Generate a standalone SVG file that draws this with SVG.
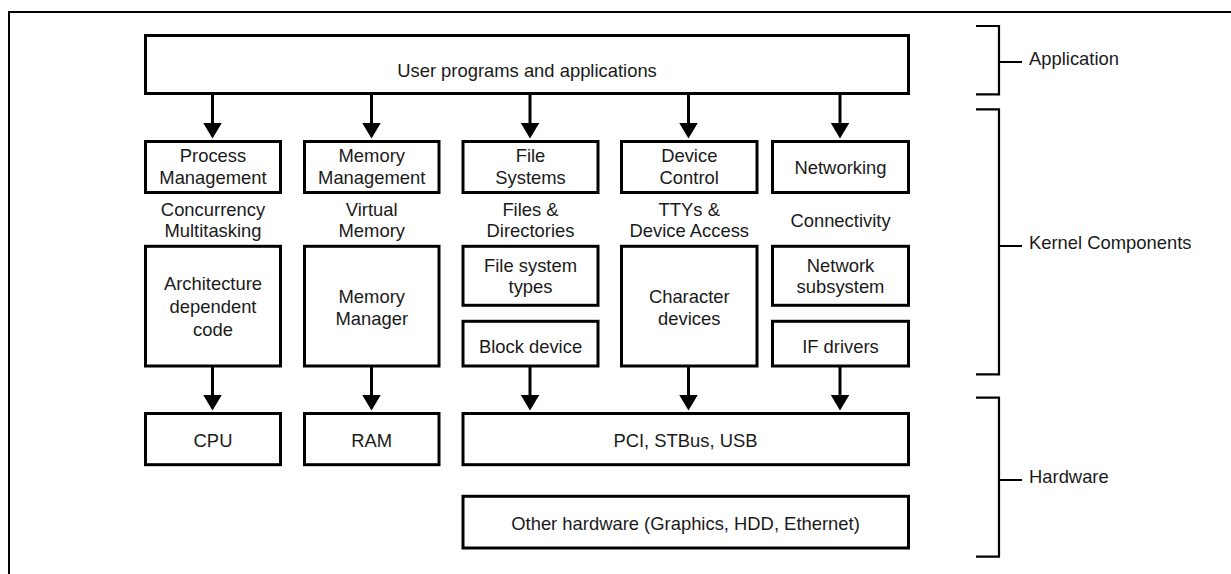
<svg xmlns="http://www.w3.org/2000/svg" width="1231" height="574" viewBox="0 0 1231 574">
<style>
  .box { fill: #fff; stroke: #000; stroke-width: 3; }
  .t { font-family: "Liberation Sans", Arial, sans-serif; font-size: 18.4px; fill: #1a1a1a; text-anchor: middle; }
  .tl { font-family: "Liberation Sans", Arial, sans-serif; font-size: 18.4px; fill: #1a1a1a; text-anchor: start; }
  .conn { stroke: #000; stroke-width: 3; fill: none; marker-end: url(#ah); }
  .br { stroke: #000; stroke-width: 2.2; fill: none; }
  .frame { stroke: #000; stroke-width: 2; fill: none; }
</style>
<defs>
  <marker id="ah" markerUnits="userSpaceOnUse" markerWidth="16" markerHeight="19" refX="0" refY="9.25" orient="auto" viewBox="0 0 16 19">
    <path d="M0,0 L15.5,9.25 L0,18.5 z" fill="#000"/>
  </marker>
</defs>
<rect width="1231" height="574" fill="#fff"/>
<path class="frame" d="M9,574 V12 H1231"/>

<g id="n-user"><rect class="box" x="145.5" y="35.5" width="763" height="58"/><text class="t" x="527" y="77">User programs and applications</text></g>

<g id="n-proc"><rect class="box" x="145.5" y="141.5" width="135" height="51"/><text class="t" x="213" y="162.3">Process</text><text class="t" x="213" y="184.3">Management</text></g>
<g id="n-mem"><rect class="box" x="304.5" y="141.5" width="134.5" height="51"/><text class="t" x="371.75" y="162.3">Memory</text><text class="t" x="371.75" y="184.3">Management</text></g>
<g id="n-fs"><rect class="box" x="463" y="141.5" width="135" height="51"/><text class="t" x="530.5" y="162.3">File</text><text class="t" x="530.5" y="184.3">Systems</text></g>
<g id="n-dev"><rect class="box" x="621.5" y="141.5" width="135.5" height="51"/><text class="t" x="689.25" y="162.3">Device</text><text class="t" x="689.25" y="184.3">Control</text></g>
<g id="n-net"><rect class="box" x="772.5" y="141.5" width="136" height="51"/><text class="t" x="840.5" y="174">Networking</text></g>

<g id="l-conc"><text class="t" x="213" y="216">Concurrency</text><text class="t" x="213" y="237">Multitasking</text></g>
<g id="l-vm"><text class="t" x="371.75" y="216">Virtual</text><text class="t" x="371.75" y="237">Memory</text></g>
<g id="l-files"><text class="t" x="530.5" y="216">Files &amp;</text><text class="t" x="530.5" y="237">Directories</text></g>
<g id="l-tty"><text class="t" x="689.25" y="216">TTYs &amp;</text><text class="t" x="689.25" y="237">Device Access</text></g>
<g id="l-conn"><text class="t" x="840.5" y="227">Connectivity</text></g>

<g id="n-arch"><rect class="box" x="145.5" y="246.3" width="135" height="119.7"/><text class="t" x="213" y="290">Architecture</text><text class="t" x="213" y="313">dependent</text><text class="t" x="213" y="336">code</text></g>
<g id="n-mm"><rect class="box" x="304.5" y="246.3" width="134.5" height="119.7"/><text class="t" x="371.75" y="302.7">Memory</text><text class="t" x="371.75" y="325">Manager</text></g>
<g id="n-fst"><rect class="box" x="463" y="246.3" width="135" height="59"/><text class="t" x="530.5" y="271.7">File system</text><text class="t" x="530.5" y="293">types</text></g>
<g id="n-blk"><rect class="box" x="463" y="321.3" width="135" height="44.7"/><text class="t" x="530.5" y="352.5">Block device</text></g>
<g id="n-chr"><rect class="box" x="621.5" y="246.3" width="135.5" height="119.7"/><text class="t" x="689.25" y="302.7">Character</text><text class="t" x="689.25" y="324.5">devices</text></g>
<g id="n-nsub"><rect class="box" x="772.5" y="246.3" width="136" height="59"/><text class="t" x="840.5" y="271.7">Network</text><text class="t" x="840.5" y="293">subsystem</text></g>
<g id="n-if"><rect class="box" x="772.5" y="321.3" width="136" height="44.7"/><text class="t" x="840.5" y="352.5">IF drivers</text></g>

<g id="n-cpu"><rect class="box" x="145.5" y="413.5" width="135" height="51.2"/><text class="t" x="213" y="447">CPU</text></g>
<g id="n-ram"><rect class="box" x="304.5" y="413.5" width="134.5" height="51.2"/><text class="t" x="371.75" y="447">RAM</text></g>
<g id="n-pci"><rect class="box" x="463" y="413.5" width="445.5" height="51.2"/><text class="t" x="685.5" y="447">PCI, STBus, USB</text></g>
<g id="n-other"><rect class="box" x="463" y="496.3" width="445.5" height="51.7"/><text class="t" x="685.5" y="530">Other hardware (Graphics, HDD, Ethernet)</text></g>

<g id="connectors">
  <line class="conn" x1="212.5" y1="95" x2="212.5" y2="123"/>
  <line class="conn" x1="371.5" y1="95" x2="371.5" y2="123"/>
  <line class="conn" x1="530" y1="95" x2="530" y2="123"/>
  <line class="conn" x1="688.5" y1="95" x2="688.5" y2="123"/>
  <line class="conn" x1="840" y1="95" x2="840" y2="123"/>
  <line class="conn" x1="212.5" y1="367" x2="212.5" y2="395"/>
  <line class="conn" x1="371.5" y1="367" x2="371.5" y2="395"/>
  <line class="conn" x1="530" y1="367" x2="530" y2="395"/>
  <line class="conn" x1="688.5" y1="367" x2="688.5" y2="395"/>
  <line class="conn" x1="840" y1="367" x2="840" y2="395"/>
</g>

<g id="b-app"><path class="br" d="M976,26 H999 V94.3 H976 M999,62 H1022"/><text class="tl" x="1029" y="64.5">Application</text></g>
<g id="b-kernel"><path class="br" d="M976,109.3 H999 V374.3 H976 M999,246 H1022"/><text class="tl" x="1029" y="249">Kernel Components</text></g>
<g id="b-hw"><path class="br" d="M976,397.7 H999 V556.7 H976 M999,480 H1022"/><text class="tl" x="1029" y="483">Hardware</text></g>
</svg>
